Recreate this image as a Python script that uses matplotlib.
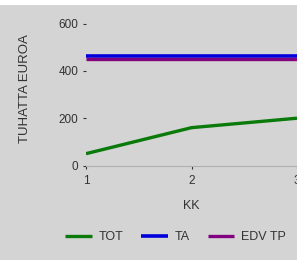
import matplotlib
matplotlib.use("Agg")
import matplotlib.pyplot as plt
from matplotlib.patches import Rectangle

plt.rcParams['font.family'] = ['Liberation Sans', 'DejaVu Sans']

months = [1, 2, 3]
tot = [50, 160, 200]
ta = [465, 465, 465]
edv_tp = [452, 452, 452]
yticks = [0, 200, 400, 600]

bg = '#d4d4d4'
txt = '#333333'

fig = plt.figure(figsize=(2.97, 2.60), dpi=100, facecolor=bg)
fig.patches.append(Rectangle((0, 1 - 5/260), 1, 5/260, transform=fig.transFigure,
                             facecolor='white', edgecolor='none', zorder=-1))
ax = fig.add_axes([86/297, 1 - 165.5/260, 1 - 86/297, 153/260])
ax.set_facecolor(bg)

ax.plot(months, tot, color='#0a7a0a', lw=2.4, label='TOT', solid_capstyle='butt')
ax.plot(months, ta, color='#0000dd', lw=2.6, label='TA', solid_capstyle='butt')
ax.plot(months, edv_tp, color='#800080', lw=2.4, label='EDV TP', solid_capstyle='butt')

ax.set_xlim(1, 1 + (297 - 86) / 107)
ax.set_ylim(0, 153 / 0.2365)
ax.set_xticks(months)
ax.set_yticks(yticks)
ax.tick_params(axis='both', labelsize=8.5, colors=txt, length=2.5, width=0.8,
               direction='out')
ax.tick_params(axis='x', pad=4)
ax.tick_params(axis='y', pad=3)
for s in ['top', 'right', 'left']:
    ax.spines[s].set_visible(False)
ax.spines['bottom'].set_color('#b0b0b0')

ax.set_xlabel('KK', fontsize=9, color=txt, labelpad=10)
ax.set_ylabel('TUHATTA EUROA', fontsize=9.5, color=txt)
ax.yaxis.set_label_coords((25.5 - 86) / 211, 0.506)
ax.yaxis.label.set_va('center')

fig.legend(loc='center', bbox_to_anchor=(175.5/297, 1 - 237/260), ncol=3, frameon=False,
           fontsize=9, handlelength=2.1, columnspacing=1.45, handletextpad=0.55,
           labelcolor=txt)

plt.savefig('out.png', dpi=100, facecolor=bg)
